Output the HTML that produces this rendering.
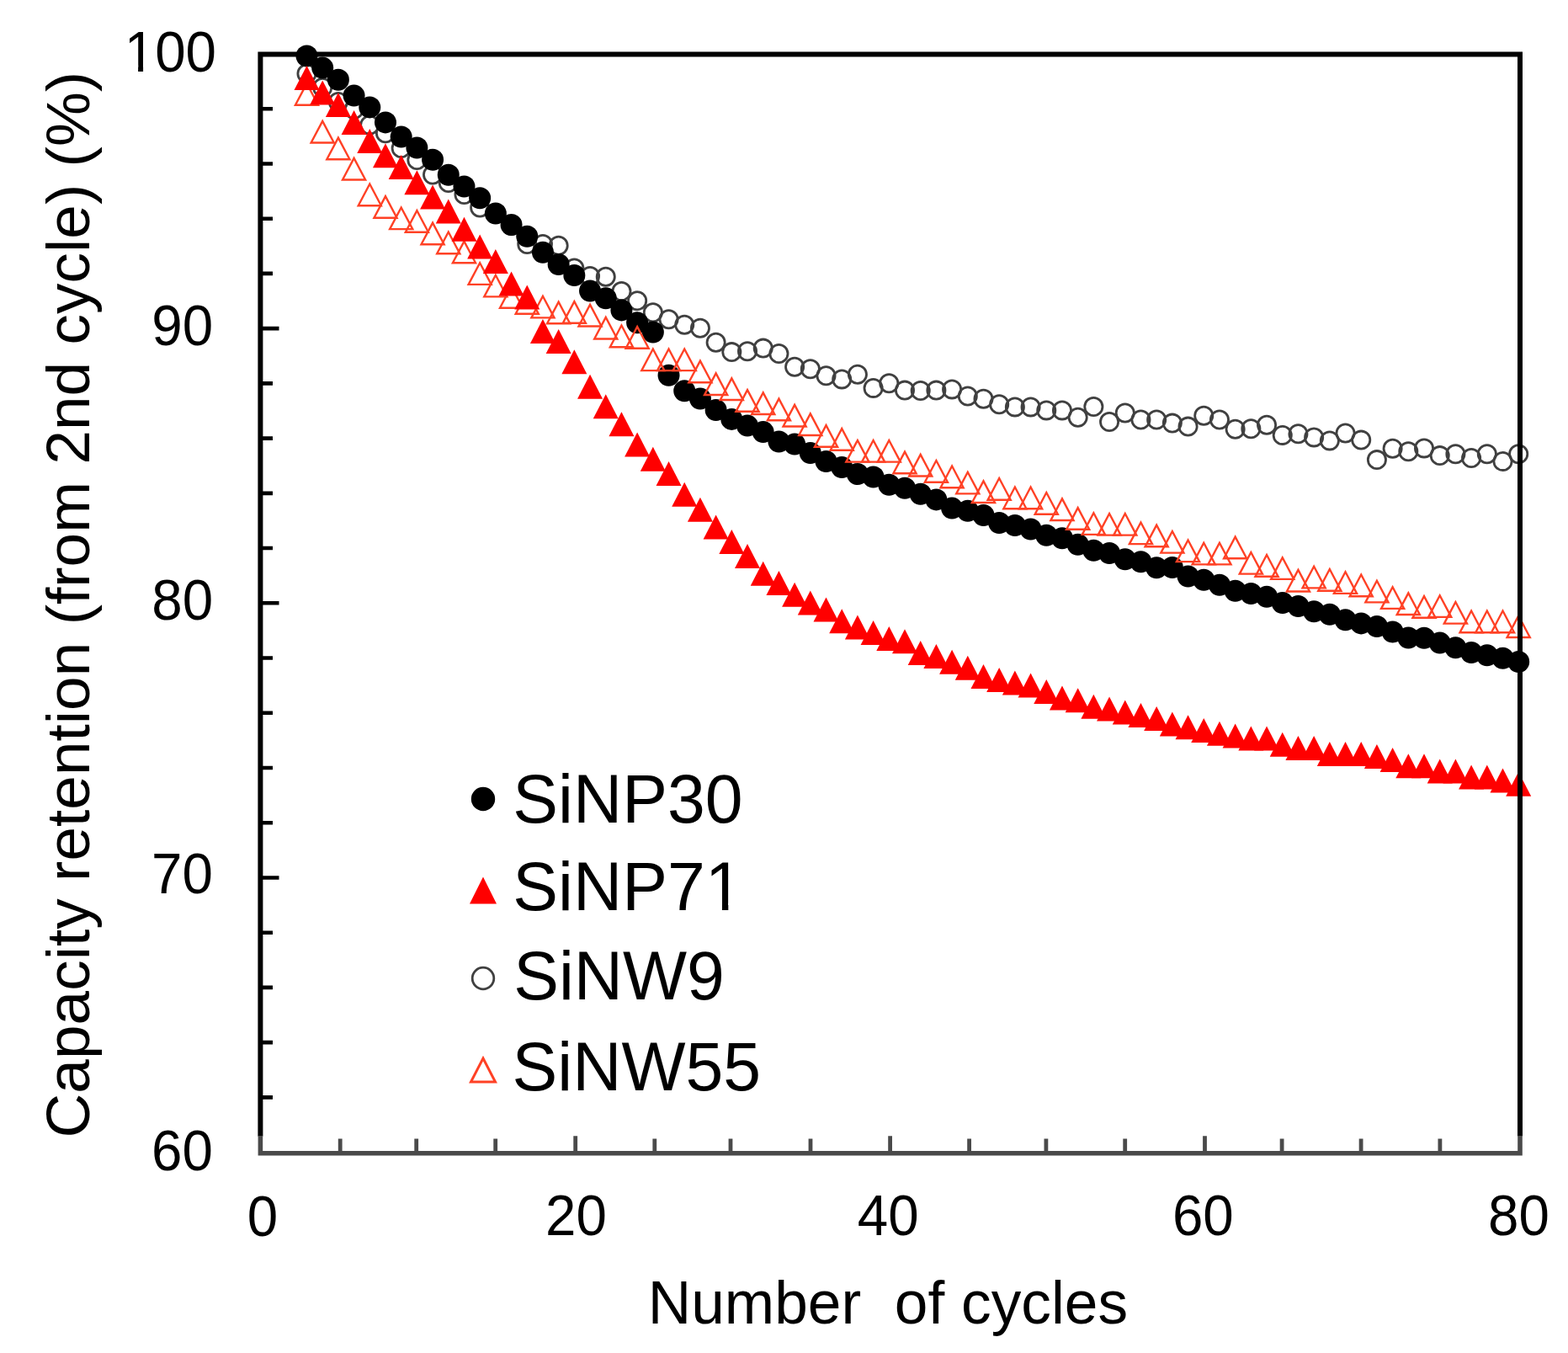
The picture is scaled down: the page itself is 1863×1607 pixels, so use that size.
<!DOCTYPE html><html><head><meta charset="utf-8"><title>Capacity retention</title>
<style>html,body{margin:0;padding:0;background:#fff;}svg{display:block;}text{font-family:"Liberation Sans",Arial,sans-serif;fill:#000;}</style></head><body>
<svg xmlns="http://www.w3.org/2000/svg" width="1863" height="1607" viewBox="0 0 1863 1607">
<rect width="1863" height="1607" fill="#fff"/>
<g fill="none" stroke="#404040" stroke-width="2.8">
<circle cx="364.49" cy="87.5" r="10.6"/>
<circle cx="383.19" cy="104" r="10.6"/>
<circle cx="401.89" cy="121" r="10.6"/>
<circle cx="420.58" cy="130" r="10.6"/>
<circle cx="439.28" cy="148.4" r="10.6"/>
<circle cx="457.98" cy="158.3" r="10.6"/>
<circle cx="476.68" cy="176" r="10.6"/>
<circle cx="495.38" cy="190" r="10.6"/>
<circle cx="514.07" cy="207.5" r="10.6"/>
<circle cx="532.77" cy="217" r="10.6"/>
<circle cx="551.47" cy="231" r="10.6"/>
<circle cx="570.16" cy="246.5" r="10.6"/>
<circle cx="588.86" cy="254" r="10.6"/>
<circle cx="607.56" cy="268" r="10.6"/>
<circle cx="626.26" cy="290" r="10.6"/>
<circle cx="644.95" cy="290" r="10.6"/>
<circle cx="663.65" cy="291.8" r="10.6"/>
<circle cx="682.35" cy="318.5" r="10.6"/>
<circle cx="701.05" cy="328" r="10.6"/>
<circle cx="719.75" cy="328.7" r="10.6"/>
<circle cx="738.44" cy="346" r="10.6"/>
<circle cx="757.14" cy="357.2" r="10.6"/>
<circle cx="775.84" cy="371.3" r="10.6"/>
<circle cx="794.54" cy="379.3" r="10.6"/>
<circle cx="813.23" cy="385.8" r="10.6"/>
<circle cx="831.93" cy="389.8" r="10.6"/>
<circle cx="850.63" cy="406.8" r="10.6"/>
<circle cx="869.33" cy="418.1" r="10.6"/>
<circle cx="888.02" cy="417.3" r="10.6"/>
<circle cx="906.72" cy="413.6" r="10.6"/>
<circle cx="925.42" cy="420" r="10.6"/>
<circle cx="944.12" cy="435.8" r="10.6"/>
<circle cx="962.81" cy="438.3" r="10.6"/>
<circle cx="981.51" cy="446.3" r="10.6"/>
<circle cx="1000.21" cy="450.4" r="10.6"/>
<circle cx="1018.91" cy="444.7" r="10.6"/>
<circle cx="1037.6" cy="460.9" r="10.6"/>
<circle cx="1056.3" cy="455.2" r="10.6"/>
<circle cx="1075" cy="463.6" r="10.6"/>
<circle cx="1093.7" cy="464" r="10.6"/>
<circle cx="1112.39" cy="463.6" r="10.6"/>
<circle cx="1131.09" cy="462.4" r="10.6"/>
<circle cx="1149.79" cy="470.5" r="10.6"/>
<circle cx="1168.49" cy="473.7" r="10.6"/>
<circle cx="1187.18" cy="480.2" r="10.6"/>
<circle cx="1205.88" cy="483.4" r="10.6"/>
<circle cx="1224.58" cy="483.4" r="10.6"/>
<circle cx="1243.28" cy="487.4" r="10.6"/>
<circle cx="1261.97" cy="487.4" r="10.6"/>
<circle cx="1280.67" cy="495.8" r="10.6"/>
<circle cx="1299.37" cy="483" r="10.6"/>
<circle cx="1318.07" cy="501" r="10.6"/>
<circle cx="1336.76" cy="490.5" r="10.6"/>
<circle cx="1355.46" cy="498.5" r="10.6"/>
<circle cx="1374.16" cy="498.5" r="10.6"/>
<circle cx="1392.86" cy="502.6" r="10.6"/>
<circle cx="1411.55" cy="506.6" r="10.6"/>
<circle cx="1430.25" cy="493.7" r="10.6"/>
<circle cx="1448.95" cy="498.5" r="10.6"/>
<circle cx="1467.64" cy="509.7" r="10.6"/>
<circle cx="1486.34" cy="509.3" r="10.6"/>
<circle cx="1505.04" cy="504.8" r="10.6"/>
<circle cx="1523.74" cy="516.9" r="10.6"/>
<circle cx="1542.43" cy="515.3" r="10.6"/>
<circle cx="1561.13" cy="519.4" r="10.6"/>
<circle cx="1579.83" cy="523.4" r="10.6"/>
<circle cx="1598.53" cy="514.5" r="10.6"/>
<circle cx="1617.22" cy="522.6" r="10.6"/>
<circle cx="1635.92" cy="546.1" r="10.6"/>
<circle cx="1654.62" cy="532.7" r="10.6"/>
<circle cx="1673.32" cy="536.3" r="10.6"/>
<circle cx="1692.01" cy="532.4" r="10.6"/>
<circle cx="1710.71" cy="541.1" r="10.6"/>
<circle cx="1729.41" cy="539.2" r="10.6"/>
<circle cx="1748.11" cy="544" r="10.6"/>
<circle cx="1766.81" cy="539.2" r="10.6"/>
<circle cx="1785.5" cy="547.9" r="10.6"/>
<circle cx="1804.2" cy="539.2" r="10.6"/>
</g>
<g fill="#000">
<circle cx="364.49" cy="66.5" r="13.0"/>
<circle cx="383.19" cy="80.6" r="13.0"/>
<circle cx="401.89" cy="94.7" r="13.0"/>
<circle cx="420.58" cy="113.6" r="13.0"/>
<circle cx="439.28" cy="127.4" r="13.0"/>
<circle cx="457.98" cy="145.4" r="13.0"/>
<circle cx="476.68" cy="162.5" r="13.0"/>
<circle cx="495.38" cy="175.5" r="13.0"/>
<circle cx="514.07" cy="189.8" r="13.0"/>
<circle cx="532.77" cy="207.8" r="13.0"/>
<circle cx="551.47" cy="221.5" r="13.0"/>
<circle cx="570.16" cy="235.3" r="13.0"/>
<circle cx="588.86" cy="253.5" r="13.0"/>
<circle cx="607.56" cy="267" r="13.0"/>
<circle cx="626.26" cy="280.7" r="13.0"/>
<circle cx="644.95" cy="299.8" r="13.0"/>
<circle cx="663.65" cy="314" r="13.0"/>
<circle cx="682.35" cy="327" r="13.0"/>
<circle cx="701.05" cy="345.5" r="13.0"/>
<circle cx="719.75" cy="354.2" r="13.0"/>
<circle cx="738.44" cy="368.4" r="13.0"/>
<circle cx="757.14" cy="383.3" r="13.0"/>
<circle cx="775.84" cy="394.5" r="13.0"/>
<circle cx="794.54" cy="445.7" r="13.0"/>
<circle cx="813.23" cy="464.3" r="13.0"/>
<circle cx="831.93" cy="473.5" r="13.0"/>
<circle cx="850.63" cy="487" r="13.0"/>
<circle cx="869.33" cy="497.9" r="13.0"/>
<circle cx="888.02" cy="505.6" r="13.0"/>
<circle cx="906.72" cy="513.1" r="13.0"/>
<circle cx="925.42" cy="524.5" r="13.0"/>
<circle cx="944.12" cy="527.5" r="13.0"/>
<circle cx="962.81" cy="538" r="13.0"/>
<circle cx="981.51" cy="548" r="13.0"/>
<circle cx="1000.21" cy="555" r="13.0"/>
<circle cx="1018.91" cy="563" r="13.0"/>
<circle cx="1037.6" cy="566.5" r="13.0"/>
<circle cx="1056.3" cy="575.7" r="13.0"/>
<circle cx="1075" cy="579.7" r="13.0"/>
<circle cx="1093.7" cy="586.7" r="13.0"/>
<circle cx="1112.39" cy="593.4" r="13.0"/>
<circle cx="1131.09" cy="603.6" r="13.0"/>
<circle cx="1149.79" cy="606.8" r="13.0"/>
<circle cx="1168.49" cy="612" r="13.0"/>
<circle cx="1187.18" cy="621" r="13.0"/>
<circle cx="1205.88" cy="624" r="13.0"/>
<circle cx="1224.58" cy="628.5" r="13.0"/>
<circle cx="1243.28" cy="635.7" r="13.0"/>
<circle cx="1261.97" cy="639.2" r="13.0"/>
<circle cx="1280.67" cy="646.7" r="13.0"/>
<circle cx="1299.37" cy="653.7" r="13.0"/>
<circle cx="1318.07" cy="657" r="13.0"/>
<circle cx="1336.76" cy="664.2" r="13.0"/>
<circle cx="1355.46" cy="667.3" r="13.0"/>
<circle cx="1374.16" cy="674.2" r="13.0"/>
<circle cx="1392.86" cy="674" r="13.0"/>
<circle cx="1411.55" cy="684.5" r="13.0"/>
<circle cx="1430.25" cy="688.8" r="13.0"/>
<circle cx="1448.95" cy="694.8" r="13.0"/>
<circle cx="1467.64" cy="701.8" r="13.0"/>
<circle cx="1486.34" cy="705" r="13.0"/>
<circle cx="1505.04" cy="708.8" r="13.0"/>
<circle cx="1523.74" cy="716" r="13.0"/>
<circle cx="1542.43" cy="720" r="13.0"/>
<circle cx="1561.13" cy="726.3" r="13.0"/>
<circle cx="1579.83" cy="729.8" r="13.0"/>
<circle cx="1598.53" cy="736.3" r="13.0"/>
<circle cx="1617.22" cy="740.4" r="13.0"/>
<circle cx="1635.92" cy="744" r="13.0"/>
<circle cx="1654.62" cy="750.5" r="13.0"/>
<circle cx="1673.32" cy="757.5" r="13.0"/>
<circle cx="1692.01" cy="757.8" r="13.0"/>
<circle cx="1710.71" cy="763.6" r="13.0"/>
<circle cx="1729.41" cy="769.2" r="13.0"/>
<circle cx="1748.11" cy="775" r="13.0"/>
<circle cx="1766.81" cy="778.2" r="13.0"/>
<circle cx="1785.5" cy="781.8" r="13.0"/>
<circle cx="1804.2" cy="786" r="13.0"/>
</g>
<g fill="none" stroke="#ff4125" stroke-width="2.4" stroke-linejoin="miter">
<path d="M364.49 99.16L378.05 124.8H350.93Z"/>
<path d="M383.19 143.86L396.75 169.5H369.63Z"/>
<path d="M401.89 163.66L415.45 189.3H388.33Z"/>
<path d="M420.58 187.86L434.14 213.5H407.02Z"/>
<path d="M439.28 218.56L452.84 244.2H425.72Z"/>
<path d="M457.98 233.16L471.54 258.8H444.42Z"/>
<path d="M476.68 246.46L490.24 272.1H463.12Z"/>
<path d="M495.38 250.16L508.94 275.8H481.81Z"/>
<path d="M514.07 264.66L527.63 290.3H500.51Z"/>
<path d="M532.77 275.56L546.33 301.2H519.21Z"/>
<path d="M551.47 286.66L565.03 312.3H537.91Z"/>
<path d="M570.16 312.26L583.72 337.9H556.61Z"/>
<path d="M588.86 326.76L602.42 352.4H575.3Z"/>
<path d="M607.56 340.16L621.12 365.8H594Z"/>
<path d="M626.26 347.16L639.82 372.8H612.7Z"/>
<path d="M644.95 351.76L658.51 377.4H631.39Z"/>
<path d="M663.65 358.66L677.21 384.3H650.09Z"/>
<path d="M682.35 358.16L695.91 383.8H668.79Z"/>
<path d="M701.05 361.86L714.61 387.5H687.49Z"/>
<path d="M719.75 376.86L733.3 402.5H706.19Z"/>
<path d="M738.44 386.56L752 412.2H724.88Z"/>
<path d="M757.14 388.06L770.7 413.7H743.58Z"/>
<path d="M775.84 414.46L789.4 440.1H762.28Z"/>
<path d="M794.54 414.46L808.1 440.1H780.98Z"/>
<path d="M813.23 414.46L826.79 440.1H799.67Z"/>
<path d="M831.93 428.66L845.49 454.3H818.37Z"/>
<path d="M850.63 443.36L864.19 469H837.07Z"/>
<path d="M869.33 449.36L882.88 475H855.77Z"/>
<path d="M888.02 463.16L901.58 488.8H874.46Z"/>
<path d="M906.72 466.36L920.28 492H893.16Z"/>
<path d="M925.42 473.66L938.98 499.3H911.86Z"/>
<path d="M944.12 480.86L957.67 506.5H930.56Z"/>
<path d="M962.81 491.36L976.37 517H949.25Z"/>
<path d="M981.51 505.16L995.07 530.8H967.95Z"/>
<path d="M1000.21 509.16L1013.77 534.8H986.65Z"/>
<path d="M1018.91 522.96L1032.47 548.6H1005.35Z"/>
<path d="M1037.6 522.96L1051.16 548.6H1024.04Z"/>
<path d="M1056.3 522.96L1069.86 548.6H1042.74Z"/>
<path d="M1075 536.66L1088.56 562.3H1061.44Z"/>
<path d="M1093.7 539.86L1107.26 565.5H1080.14Z"/>
<path d="M1112.39 547.06L1125.95 572.7H1098.83Z"/>
<path d="M1131.09 553.56L1144.65 579.2H1117.53Z"/>
<path d="M1149.79 560.76L1163.35 586.4H1136.23Z"/>
<path d="M1168.49 571.36L1182.05 597H1154.93Z"/>
<path d="M1187.18 568.06L1200.74 593.7H1173.62Z"/>
<path d="M1205.88 578.56L1219.44 604.2H1192.32Z"/>
<path d="M1224.58 578.56L1238.14 604.2H1211.02Z"/>
<path d="M1243.28 585.06L1256.84 610.7H1229.72Z"/>
<path d="M1261.97 592.36L1275.53 618H1248.41Z"/>
<path d="M1280.67 603.16L1294.23 628.8H1267.11Z"/>
<path d="M1299.37 609.26L1312.93 634.9H1285.81Z"/>
<path d="M1318.07 609.96L1331.62 635.6H1304.51Z"/>
<path d="M1336.76 609.96L1350.32 635.6H1323.2Z"/>
<path d="M1355.46 620.46L1369.02 646.1H1341.9Z"/>
<path d="M1374.16 623.66L1387.72 649.3H1360.6Z"/>
<path d="M1392.86 630.96L1406.41 656.6H1379.3Z"/>
<path d="M1411.55 641.46L1425.11 667.1H1397.99Z"/>
<path d="M1430.25 644.76L1443.81 670.4H1416.69Z"/>
<path d="M1448.95 644.76L1462.51 670.4H1435.39Z"/>
<path d="M1467.64 637.66L1481.2 663.3H1454.09Z"/>
<path d="M1486.34 655.96L1499.9 681.6H1472.78Z"/>
<path d="M1505.04 659.06L1518.6 684.7H1491.48Z"/>
<path d="M1523.74 662.26L1537.3 687.9H1510.18Z"/>
<path d="M1542.43 676.86L1555.99 702.5H1528.88Z"/>
<path d="M1561.13 672.76L1574.69 698.4H1547.57Z"/>
<path d="M1579.83 676.06L1593.39 701.7H1566.27Z"/>
<path d="M1598.53 679.26L1612.09 704.9H1584.97Z"/>
<path d="M1617.22 682.56L1630.78 708.2H1603.66Z"/>
<path d="M1635.92 689.76L1649.48 715.4H1622.36Z"/>
<path d="M1654.62 697.26L1668.18 722.9H1641.06Z"/>
<path d="M1673.32 704.36L1686.88 730H1659.76Z"/>
<path d="M1692.01 708.16L1705.57 733.8H1678.45Z"/>
<path d="M1710.71 707.26L1724.27 732.9H1697.15Z"/>
<path d="M1729.41 714.96L1742.97 740.6H1715.85Z"/>
<path d="M1748.11 725.56L1761.67 751.2H1734.55Z"/>
<path d="M1766.81 725.56L1780.37 751.2H1753.25Z"/>
<path d="M1785.5 725.56L1799.06 751.2H1771.94Z"/>
<path d="M1804.2 731.36L1817.76 757H1790.64Z"/>
</g>
<g fill="#ff0000">
<path d="M364.49 78L379.49 107H349.49Z"/>
<path d="M383.19 95.5L398.19 124.5H368.19Z"/>
<path d="M401.89 110L416.89 139H386.89Z"/>
<path d="M420.58 131L435.58 160H405.58Z"/>
<path d="M439.28 153L454.28 182H424.28Z"/>
<path d="M457.98 170.3L472.98 199.3H442.98Z"/>
<path d="M476.68 184L491.68 213H461.68Z"/>
<path d="M495.38 202.2L510.38 231.2H480.38Z"/>
<path d="M514.07 219.6L529.07 248.6H499.07Z"/>
<path d="M532.77 236.5L547.77 265.5H517.77Z"/>
<path d="M551.47 257.8L566.47 286.8H536.47Z"/>
<path d="M570.16 278.4L585.16 307.4H555.16Z"/>
<path d="M588.86 296L603.86 325H573.86Z"/>
<path d="M607.56 322.5L622.56 351.5H592.56Z"/>
<path d="M626.26 338.6L641.26 367.6H611.26Z"/>
<path d="M644.95 379L659.95 408H629.95Z"/>
<path d="M663.65 391L678.65 420H648.65Z"/>
<path d="M682.35 415.3L697.35 444.3H667.35Z"/>
<path d="M701.05 444.8L716.05 473.8H686.05Z"/>
<path d="M719.75 468.2L734.75 497.2H704.75Z"/>
<path d="M738.44 489.2L753.44 518.2H723.44Z"/>
<path d="M757.14 513.6L772.14 542.6H742.14Z"/>
<path d="M775.84 530.7L790.84 559.7H760.84Z"/>
<path d="M794.54 548L809.54 577H779.54Z"/>
<path d="M813.23 572.8L828.23 601.8H798.23Z"/>
<path d="M831.93 590.8L846.93 619.8H816.93Z"/>
<path d="M850.63 611.6L865.63 640.6H835.63Z"/>
<path d="M869.33 629L884.33 658H854.33Z"/>
<path d="M888.02 645.9L903.02 674.9H873.02Z"/>
<path d="M906.72 666.8L921.72 695.8H891.72Z"/>
<path d="M925.42 678.1L940.42 707.1H910.42Z"/>
<path d="M944.12 691.8L959.12 720.8H929.12Z"/>
<path d="M962.81 701.4L977.81 730.4H947.81Z"/>
<path d="M981.51 709.5L996.51 738.5H966.51Z"/>
<path d="M1000.21 723.2L1015.21 752.2H985.21Z"/>
<path d="M1018.91 730.4L1033.91 759.4H1003.91Z"/>
<path d="M1037.6 736.9L1052.6 765.9H1022.6Z"/>
<path d="M1056.3 744.1L1071.3 773.1H1041.3Z"/>
<path d="M1075 747.3L1090 776.3H1060Z"/>
<path d="M1093.7 761L1108.7 790H1078.7Z"/>
<path d="M1112.39 765.1L1127.39 794.1H1097.39Z"/>
<path d="M1131.09 771.8L1146.09 800.8H1116.09Z"/>
<path d="M1149.79 778.7L1164.79 807.7H1134.79Z"/>
<path d="M1168.49 789.1L1183.49 818.1H1153.49Z"/>
<path d="M1187.18 792.9L1202.18 821.9H1172.18Z"/>
<path d="M1205.88 796.6L1220.88 825.6H1190.88Z"/>
<path d="M1224.58 799.5L1239.58 828.5H1209.58Z"/>
<path d="M1243.28 807L1258.28 836H1228.28Z"/>
<path d="M1261.97 814.5L1276.97 843.5H1246.97Z"/>
<path d="M1280.67 817.3L1295.67 846.3H1265.67Z"/>
<path d="M1299.37 824.8L1314.37 853.8H1284.37Z"/>
<path d="M1318.07 827.6L1333.07 856.6H1303.07Z"/>
<path d="M1336.76 831.4L1351.76 860.4H1321.76Z"/>
<path d="M1355.46 835.1L1370.46 864.1H1340.46Z"/>
<path d="M1374.16 838.9L1389.16 867.9H1359.16Z"/>
<path d="M1392.86 845.5L1407.86 874.5H1377.86Z"/>
<path d="M1411.55 849.2L1426.55 878.2H1396.55Z"/>
<path d="M1430.25 853L1445.25 882H1415.25Z"/>
<path d="M1448.95 856.7L1463.95 885.7H1433.95Z"/>
<path d="M1467.64 859.6L1482.64 888.6H1452.64Z"/>
<path d="M1486.34 862.6L1501.34 891.6H1471.34Z"/>
<path d="M1505.04 862.6L1520.04 891.6H1490.04Z"/>
<path d="M1523.74 869.8L1538.74 898.8H1508.74Z"/>
<path d="M1542.43 873.9L1557.43 902.9H1527.43Z"/>
<path d="M1561.13 873.9L1576.13 902.9H1546.13Z"/>
<path d="M1579.83 881L1594.83 910H1564.83Z"/>
<path d="M1598.53 881L1613.53 910H1583.53Z"/>
<path d="M1617.22 881L1632.22 910H1602.22Z"/>
<path d="M1635.92 884L1650.92 913H1620.92Z"/>
<path d="M1654.62 888.1L1669.62 917.1H1639.62Z"/>
<path d="M1673.32 895.3L1688.32 924.3H1658.32Z"/>
<path d="M1692.01 895.3L1707.01 924.3H1677.01Z"/>
<path d="M1710.71 901.4L1725.71 930.4H1695.71Z"/>
<path d="M1729.41 901.4L1744.41 930.4H1714.41Z"/>
<path d="M1748.11 908.5L1763.11 937.5H1733.11Z"/>
<path d="M1766.81 908.5L1781.81 937.5H1751.81Z"/>
<path d="M1785.5 912.6L1800.5 941.6H1770.5Z"/>
<path d="M1804.2 916.7L1819.2 945.7H1789.2Z"/>
</g>
<path d="M309.4 1349.5V64.4H1806.0V1349.5" fill="none" stroke="#000" stroke-width="6.0" stroke-linejoin="miter"/>
<path d="M309.4 1349V1369.8H1806.0V1349" fill="none" stroke="#4a4a4a" stroke-width="5.6" stroke-linejoin="miter"/>
<path d="M309.4 1303.37H324.0M309.4 1238.14H324.0M309.4 1172.91H324.0M309.4 1107.68H324.0M309.4 1042.45H331.5M309.4 977.22H324.0M309.4 911.99H324.0M309.4 846.76H324.0M309.4 781.53H324.0M309.4 716.3H331.5M309.4 651.07H324.0M309.4 585.84H324.0M309.4 520.61H324.0M309.4 455.38H324.0M309.4 390.15H331.5M309.4 324.92H324.0M309.4 259.69H324.0M309.4 194.46H324.0M309.4 129.23H324.0" stroke="#000" stroke-width="4.6"/>
<path d="M404.2 1369.8V1352.6M494.7 1369.8V1352.6M588.7 1369.8V1352.6M683.7 1369.8V1349.3M777.8 1369.8V1352.6M868 1369.8V1352.6M963 1369.8V1352.6M1057.6 1369.8V1349.3M1151.6 1369.8V1352.6M1242.9 1369.8V1352.6M1336.7 1369.8V1352.6M1431.5 1369.8V1349.3M1523.1 1369.8V1352.6M1617.1 1369.8V1352.6M1710.9 1369.8V1352.6" stroke="#4a4a4a" stroke-width="4.8"/>
<g transform="matrix(0.97763 0 0 1.03024 147.728 84.509)"><text font-size="67">100</text><rect x="2.94" y="-7.03" width="13.81" height="8.51" fill="#fff"/><rect x="22.87" y="-7.03" width="13.45" height="8.51" fill="#fff"/></g>
<g transform="matrix(0.97763 0 0 1.03024 180.281 410.212)"><text font-size="67">90</text></g>
<g transform="matrix(0.97763 0 0 1.03024 180.236 735.937)"><text font-size="67">80</text></g>
<g transform="matrix(0.97763 0 0 1.03024 179.975 1060.678)"><text font-size="67">70</text></g>
<g transform="matrix(0.97763 0 0 1.03024 179.998 1390.106)"><text font-size="67">60</text></g>
<g transform="matrix(0.97763 0 0 1.03024 293.634 1467.786)"><text font-size="67">0</text></g>
<g transform="matrix(0.97763 0 0 1.03024 648.068 1466.921)"><text font-size="67">20</text></g>
<g transform="matrix(0.97763 0 0 1.03024 1018.819 1467.440)"><text font-size="67">40</text></g>
<g transform="matrix(0.97763 0 0 1.03024 1392.936 1467.426)"><text font-size="67">60</text></g>
<g transform="matrix(0.97763 0 0 1.03024 1768.002 1466.971)"><text font-size="67">80</text></g>
<g transform="matrix(0.98188 0 0 0.98307 769.734 1572.319)"><text font-size="72.6">Number  of cycles</text></g>
<g transform="translate(106.108 1351.431) rotate(-90) scale(1.01475 0.99242)"><text font-size="72">Capacity retention (from 2nd cycle) (%)</text></g>
<g transform="matrix(1.00005 0 0 1.01167 609.330 977.179)"><text font-size="80.6">SiNP30</text></g>
<g transform="matrix(1.00005 0 0 1.01167 609.330 1081.188)"><text font-size="80.6">SiNP71</text><rect x="232.00" y="-8.46" width="16.61" height="10.23" fill="#fff"/><rect x="255.97" y="-8.46" width="16.18" height="10.23" fill="#fff"/></g>
<g transform="matrix(1.00005 0 0 1.01167 610.164 1186.785)"><text font-size="80.6">SiNW9</text></g>
<g transform="matrix(1.00005 0 0 1.01167 608.592 1295.227)"><text font-size="80.6">SiNW55</text></g>
<circle cx="574" cy="949" r="14.2" fill="#000"/>
<path d="M574 1041.5L590 1073.5H558Z" fill="#ff0000"/>
<circle cx="574" cy="1162" r="12.8" fill="none" stroke="#404040" stroke-width="2.8"/>
<path d="M574 1257L588.5 1285H559.5Z" fill="none" stroke="#ff4125" stroke-width="3"/>
</svg></body></html>
